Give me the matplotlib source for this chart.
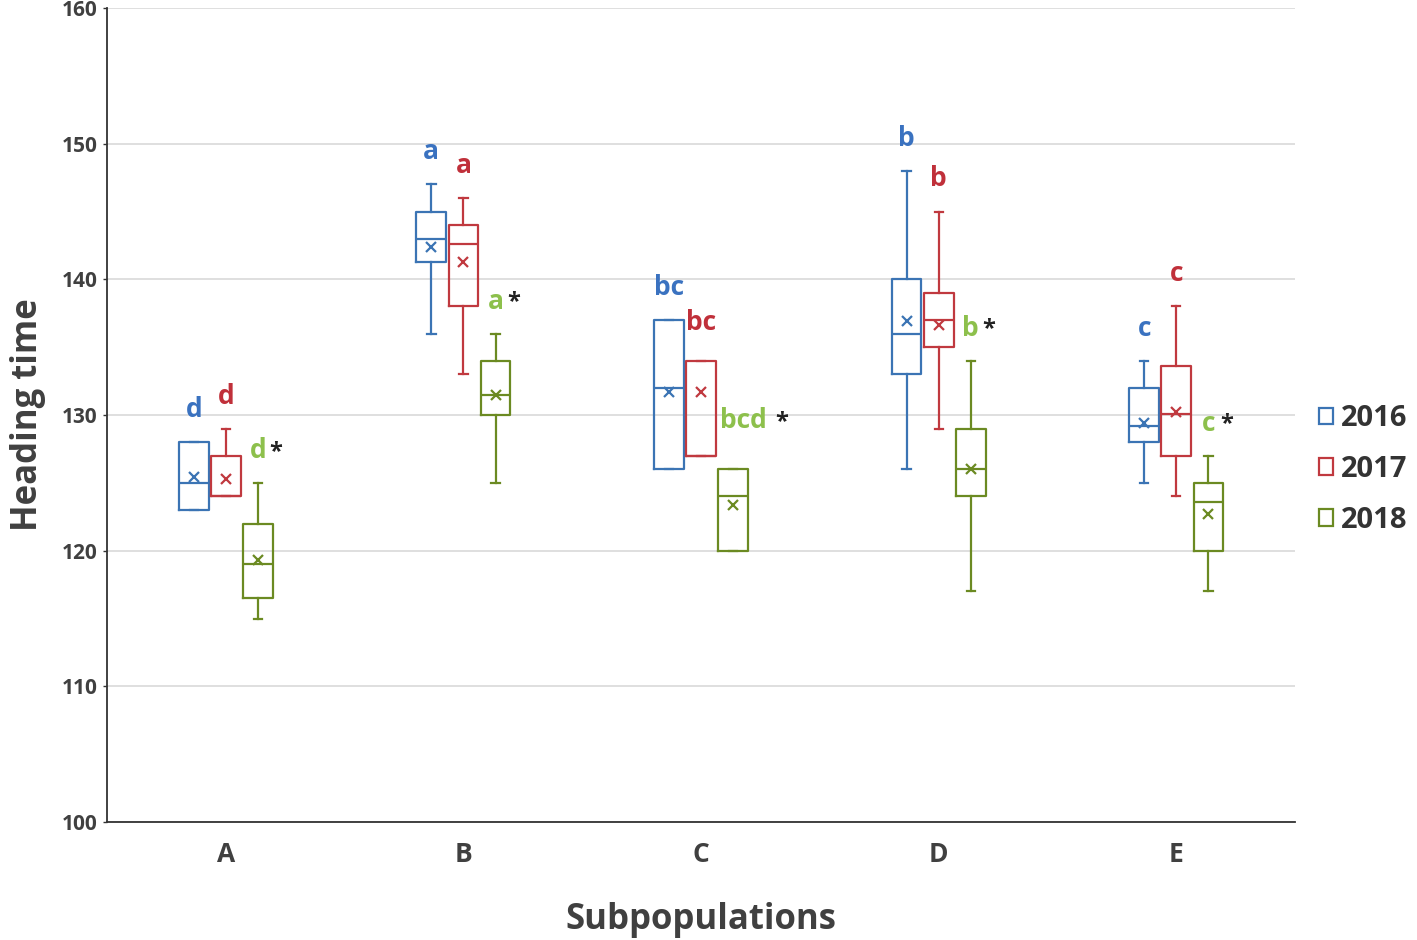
import matplotlib
matplotlib.use('Agg')
import matplotlib.pyplot as plt
from matplotlib.patches import Patch

plt.rcParams['font.family'] = ['Open Sans', 'DejaVu Sans']

groups = ['A', 'B', 'C', 'D', 'E']
years = ['2016', '2017', '2018']

# box statistics per year, one value per subpopulation
whislo = {'2016': [123, 136, 126, 126, 125],
          '2017': [124, 133, 127, 129, 124],
          '2018': [115, 125, 120, 117, 117]}
q1 = {'2016': [123, 141.3, 126, 133, 128],
      '2017': [124, 138, 127, 135, 127],
      '2018': [116.5, 130, 120, 124, 120]}
med = {'2016': [125, 143, 132, 136, 129.2],
       '2017': [124, 142.6, 127, 137, 130.1],
       '2018': [119, 131.5, 124, 126, 123.6]}
q3 = {'2016': [128, 145, 137, 140, 132],
      '2017': [127, 144, 134, 139, 133.6],
      '2018': [122, 134, 126, 129, 125]}
whishi = {'2016': [128, 147, 137, 148, 134],
          '2017': [129, 146, 134, 145, 138],
          '2018': [125, 136, 126, 134, 127]}
means = {'2016': [125.4, 142.4, 131.7, 136.9, 129.4],
         '2017': [125.3, 141.3, 131.7, 136.6, 130.2],
         '2018': [119.3, 131.5, 123.4, 126.0, 122.7]}

letters = {'2016': ['d', 'a', 'bc', 'b', 'c'],
           '2017': ['d', 'a', 'bc', 'b', 'c'],
           '2018': ['d', 'a', 'bcd', 'b', 'c']}

box_colors = {'2016': '#3b74b4', '2017': '#c0393f', '2018': '#6b8a22'}
letter_colors = {'2016': '#3a72c0', '2017': '#c0303a', '2018': '#8dc04c'}
offsets = {'2016': -0.135, '2017': 0.0, '2018': 0.135}
# small shifts for crowded labels
nudge = {('2018', 2): (0.045, 1.2), ('2017', 2): (0.0, 0.4)}

fig = plt.figure(figsize=(14.17, 9.40), dpi=100)
ax = fig.add_axes([0.0755, 0.1255, 0.8385, 0.866])

for yr in years:
    stats = []
    for i in range(len(groups)):
        stats.append({'whislo': whislo[yr][i], 'q1': q1[yr][i], 'med': med[yr][i],
                      'q3': q3[yr][i], 'whishi': whishi[yr][i], 'mean': means[yr][i],
                      'fliers': []})
    pos = [i + offsets[yr] for i in range(len(groups))]
    c = box_colors[yr]
    ax.bxp(stats, positions=pos, widths=0.125, showmeans=True, capwidths=0.035,
           boxprops=dict(color=c, linewidth=1.6),
           medianprops=dict(color=c, linewidth=1.6),
           whiskerprops=dict(color=c, linewidth=1.6),
           capprops=dict(color=c, linewidth=1.6),
           meanprops=dict(marker='x', markeredgecolor=c, markersize=7, markeredgewidth=1.6),
           manage_ticks=False, zorder=3)
    for i in range(len(groups)):
        lbl = letters[yr][i]
        dx, dy = nudge.get((yr, i), (0, 0))
        x = pos[i] + dx
        y = whishi[yr][i] + 2.4 + dy
        ax.text(x, y, lbl, color=letter_colors[yr], fontsize=19, fontweight='bold',
                ha='center', va='center', zorder=4)
        if yr == '2018':
            ax.annotate('*', xy=(x, y), xytext=((10 * len(lbl) + 8) * 0.72, -1),
                        textcoords='offset points', ha='center', va='center',
                        fontsize=17, fontweight='bold', color='#222222')

ax.set_xlim(-0.5, 4.5)
ax.set_ylim(100, 160)
ax.set_yticks(range(100, 161, 10))
ax.set_xticks(range(len(groups)))
ax.set_xticklabels(groups)
ax.yaxis.grid(True, color='#d9d9d9', linewidth=1.2)
ax.set_axisbelow(True)

for s in ['top', 'right']:
    ax.spines[s].set_visible(False)
for s in ['left', 'bottom']:
    ax.spines[s].set_color('#333333')
    ax.spines[s].set_linewidth(1.3)

ax.tick_params(axis='y', length=3, width=1, color='#333333', labelsize=15,
               labelcolor='#404040', pad=4)
ax.tick_params(axis='x', length=0, labelsize=19, labelcolor='#404040', pad=14)
for t in ax.get_yticklabels() + ax.get_xticklabels():
    t.set_fontweight('bold')

ax.set_xlabel('Subpopulations', fontsize=25, fontweight='bold', color='#404040', labelpad=24)
ax.set_ylabel('Heading time', fontsize=25, fontweight='bold', color='#404040', labelpad=11)

handles = [Patch(facecolor='white', edgecolor=box_colors[yr], linewidth=1.6, label=yr)
           for yr in years]
leg = ax.legend(handles=handles, loc='center left', bbox_to_anchor=(1.01, 0.433),
                frameon=False, fontsize=21, handlelength=0.5, handleheight=0.5,
                handletextpad=0.25, labelspacing=0.75, borderaxespad=0)
for t in leg.get_texts():
    t.set_fontweight('bold')
    t.set_color('#333333')

fig.savefig('out.png', dpi=100)
